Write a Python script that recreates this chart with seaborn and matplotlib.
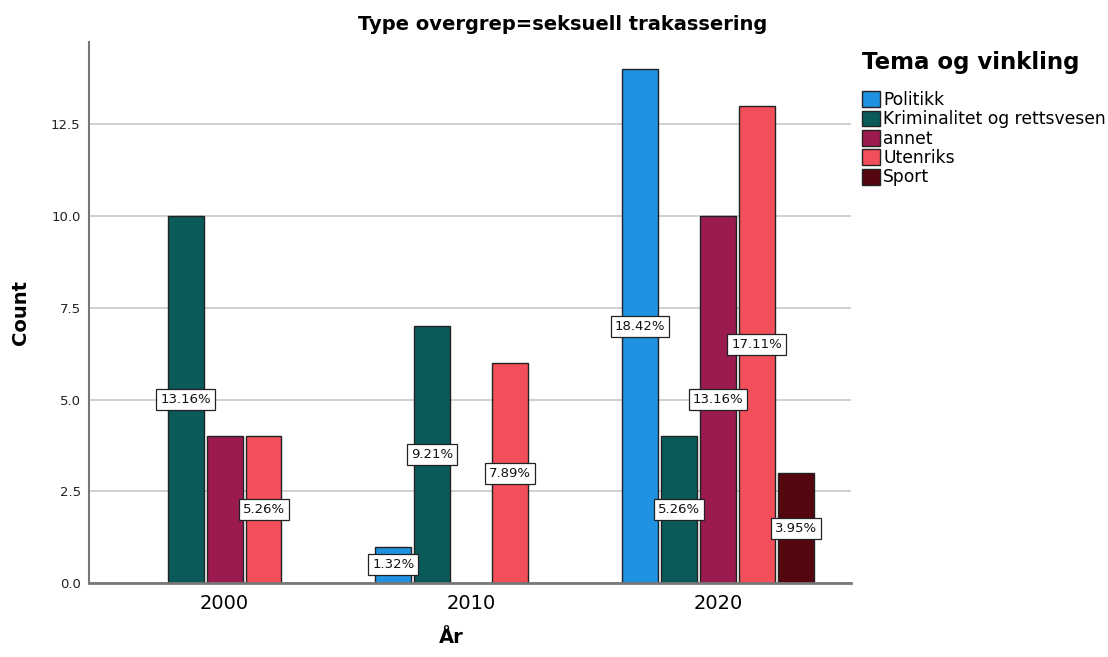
import pandas as pd
import matplotlib.pyplot as plt
import matplotlib.patches as mpatches
import seaborn as sns

# data
years = ['2000', '2010', '2020']
tema = ['Politikk', 'Kriminalitet og rettsvesen', 'annet', 'Utenriks', 'Sport']
politikk = [0, 1, 14]
kriminalitet = [10, 7, 4]
annet = [4, 0, 10]
utenriks = [4, 6, 13]
sport = [0, 0, 3]
colors = ['#1f92e2', '#0b5a5a', '#9b1b50', '#f24f5a', '#55050d']
hidden_labels = [('2000', 'annet')]  # label dropped in the original

series = [politikk, kriminalitet, annet, utenriks, sport]
rows = []
for t, vals in zip(tema, series):
    for y, v in zip(years, vals):
        if v > 0:
            rows.append({'År': y, 'Tema': t, 'Count': v})
df = pd.DataFrame(rows)
total = df['Count'].sum()

sns.set_style('white')
plt.rcParams['font.family'] = ['DejaVu Sans']
plt.rcParams['text.color'] = 'black'
plt.rcParams['axes.labelcolor'] = 'black'
plt.rcParams['xtick.color'] = 'black'

fig = plt.figure(figsize=(11.08, 6.57), dpi=100)
ax = fig.add_axes([0.0803, 0.1122, 0.6877, 0.8243])
ax.yaxis.grid(True, color='#c8c8c8', linewidth=1.2)
ax.set_axisbelow(True)

sns.barplot(data=df, x='År', y='Count', hue='Tema', order=years, hue_order=tema,
            palette=colors, saturation=1, width=0.79, gap=0.08,
            edgecolor='#222222', linewidth=1, legend=False, ax=ax)

# percentage labels in the middle of each bar
for container, t in zip(ax.containers, tema):
    for bar in container:
        h = bar.get_height()
        if not h > 0:
            continue
        xc = bar.get_x() + bar.get_width() / 2
        yr = years[int(round(xc))]
        if (yr, t) in hidden_labels:
            continue
        ax.text(xc, h / 2, f'{h / total * 100:.2f}%', ha='center', va='center',
                fontsize=9.5, color='#111111', zorder=5,
                bbox=dict(boxstyle='square,pad=0.3', facecolor='white',
                          edgecolor='#222222', linewidth=0.9))

ax.set_xlim(-0.55, 2.54)
ax.set_ylim(0, 14.74)
yt = [0, 2.5, 5, 7.5, 10, 12.5]
ax.set_yticks(yt)
ax.set_yticklabels([f'{v:.1f}' for v in yt], fontsize=9.5, color='#222222')
ax.tick_params(axis='x', labelsize=14, length=0, pad=8)
ax.tick_params(axis='y', length=3, color='#888888', pad=3)

sns.despine(ax=ax)
ax.spines['left'].set_color('#777777')
ax.spines['left'].set_linewidth(1.5)
ax.spines['bottom'].set_color('#777777')
ax.spines['bottom'].set_linewidth(2)

ax.set_xlabel('År', fontsize=14, fontweight='bold')
ax.xaxis.set_label_coords((451 - 89) / 762, -0.082)
ax.set_ylabel('Count', fontsize=14, fontweight='bold')
ax.yaxis.set_label_coords(-0.077, 0.5)

fig.text(0.508, 0.963, 'Type overgrep=seksuell trakassering', ha='center', va='center',
         fontsize=14, fontweight='bold')

# legend
fig.text(862 / 1108, 1 - 62 / 657, 'Tema og vinkling', ha='left', va='center',
         fontsize=16.5, fontweight='bold')
handles = [mpatches.Patch(facecolor=c, edgecolor='#222222', linewidth=1) for c in colors]
fig.legend(handles, tema, loc='upper left', bbox_to_anchor=(862 / 1108, 1 - 91 / 657),
           frameon=False, fontsize=12.3, handlelength=1.05, handleheight=1.05,
           handletextpad=0.2, labelspacing=0.08, borderpad=0, borderaxespad=0)

fig.savefig('out.png', dpi=100)
